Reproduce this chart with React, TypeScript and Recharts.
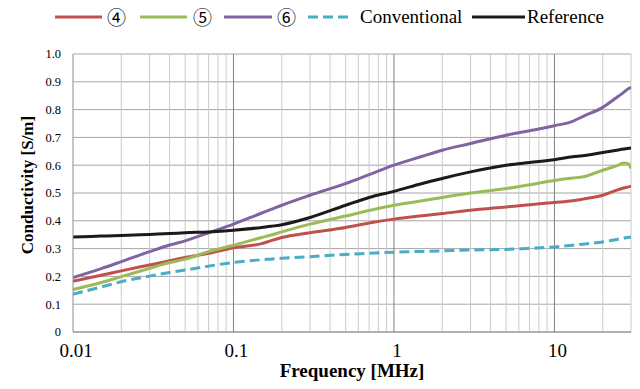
import React from 'react';
import { LineChart, Line, XAxis, YAxis, CartesianGrid, ReferenceLine } from 'recharts';

const freq = [0.01, 0.015, 0.02, 0.03, 0.04, 0.05, 0.07, 0.1, 0.15, 0.17, 0.2, 0.3, 0.5, 0.7, 1, 1.5, 2, 3, 5, 7, 10, 13, 15, 20, 25, 27, 29, 30];

const s4 = [0.183, 0.204, 0.220, 0.241, 0.256, 0.268, 0.283, 0.303, 0.318, 0.328, 0.340, 0.357, 0.376, 0.392, 0.406, 0.418, 0.426, 0.438, 0.450, 0.458, 0.466, 0.472, 0.478, 0.492, 0.512, 0.518, 0.522, 0.524];
const s5 = [0.153, 0.178, 0.199, 0.229, 0.250, 0.262, 0.289, 0.312, 0.340, 0.348, 0.360, 0.388, 0.417, 0.437, 0.456, 0.472, 0.484, 0.500, 0.516, 0.530, 0.545, 0.554, 0.558, 0.582, 0.600, 0.608, 0.605, 0.588];
const s6 = [0.196, 0.228, 0.253, 0.289, 0.313, 0.328, 0.357, 0.388, 0.428, 0.440, 0.456, 0.492, 0.534, 0.566, 0.600, 0.632, 0.654, 0.678, 0.708, 0.724, 0.742, 0.758, 0.775, 0.808, 0.848, 0.862, 0.876, 0.880];
const conventional = [0.136, 0.162, 0.181, 0.201, 0.214, 0.223, 0.237, 0.250, 0.260, 0.262, 0.265, 0.271, 0.279, 0.283, 0.287, 0.290, 0.292, 0.295, 0.297, 0.301, 0.306, 0.312, 0.316, 0.324, 0.334, 0.337, 0.341, 0.342];
const reference = [0.342, 0.345, 0.347, 0.351, 0.354, 0.357, 0.360, 0.366, 0.376, 0.380, 0.386, 0.412, 0.456, 0.484, 0.506, 0.534, 0.552, 0.576, 0.600, 0.610, 0.620, 0.630, 0.634, 0.646, 0.655, 0.658, 0.661, 0.662];

const xTicks = [0.01, 0.1, 1, 10];
const xTickLabels = ['0.01', '0.1', '1', '10'];
const minorGrid = [0.02, 0.03, 0.04, 0.05, 0.06, 0.07, 0.08, 0.09, 0.2, 0.3, 0.4, 0.5, 0.6, 0.7, 0.8, 0.9, 2, 3, 4, 5, 6, 7, 8, 9, 20, 30];
const majorGrid = [0.1, 1, 10];
const yTicks = [0, 0.1, 0.2, 0.3, 0.4, 0.5, 0.6, 0.7, 0.8, 0.9, 1.0];
const yTickLabels = ['0', '0.1', '0.2', '0.3', '0.4', '0.5', '0.6', '0.7', '0.8', '0.9', '1.0'];

const seriesNames = ['④', '⑤', '⑥', 'Conventional', 'Reference'];
const seriesKeys = ['s4', 's5', 's6', 'conv', 'ref'];
const seriesColors = ['#C0504D', '#9BBB59', '#8064A2', '#4BACC6', '#1a1a1a'];
const seriesDash = ['', '', '', '10 5', ''];

const data = freq.map((f, i) => ({
  f,
  s4: s4[i],
  s5: s5[i],
  s6: s6[i],
  conv: conventional[i],
  ref: reference[i],
}));

const FONT = '"Liberation Serif", "Times New Roman", serif';

// legend layout (positions of each legend entry)
const legendLeft = [55, 140, 224, 308, 472];
const legendLineLen = [47, 47, 48, 42, 53];
const legendGap = [5, 6, 5, 10, 2];

const LegendContent = () => (
  <div style={{ position: 'absolute', left: 0, top: 0, width: 640, height: 34 }}>
    {seriesNames.map((n, i) => (
      <div key={n} style={{ position: 'absolute', left: legendLeft[i], top: 6, height: 22, display: 'flex', alignItems: 'center', whiteSpace: 'nowrap' }}>
        <svg width={legendLineLen[i]} height={10} style={{ marginRight: legendGap[i], display: 'block' }}>
          <line x1={0} y1={5} x2={legendLineLen[i]} y2={5} stroke={seriesColors[i]} strokeWidth={3} strokeDasharray={seriesDash[i] || undefined} />
        </svg>
        <span style={{ fontFamily: i < 3 ? '"Noto Sans CJK JP", "DejaVu Sans", sans-serif' : FONT, fontSize: i < 3 ? 19 : 19, lineHeight: '22px', color: '#000' }}>{n}</span>
      </div>
    ))}
  </div>
);

export default function App() {
  return (
    <div style={{ position: 'absolute', left: 0, top: 0, width: 640, height: 389, background: '#fff' }}>
      <LineChart width={640} height={389} data={data} margin={{ top: 54, right: 9, bottom: 0, left: 0 }}>
        <CartesianGrid vertical={false} stroke="#a6a6a6" strokeWidth={1} />
        {minorGrid.map((g) => (
          <ReferenceLine key={'m' + g} x={g} stroke="#cbcbcb" strokeWidth={1} />
        ))}
        {majorGrid.map((g) => (
          <ReferenceLine key={'M' + g} x={g} stroke="#808080" strokeWidth={1} />
        ))}
        <XAxis
          dataKey="f"
          type="number"
          scale="log"
          domain={[0.01, 30]}
          allowDataOverflow
          ticks={xTicks}
          tickFormatter={(v: number) => xTickLabels[xTicks.indexOf(v)] ?? ''}
          tickLine={false}
          tickSize={0}
          tickMargin={12}
          height={57}
          axisLine={{ stroke: '#8c8c8c' }}
          tick={{ fontFamily: FONT, fontSize: 19, fill: '#000', dx: 3 }}
          label={{
            content: (props: any) => {
              const vb = props.viewBox;
              return (
                <text x={vb.x + vb.width / 2} y={vb.y + 45} textAnchor="middle" fontFamily={FONT} fontWeight="bold" fontSize={19} fill="#000">
                  Frequency [MHz]
                </text>
              );
            },
          }}
        />
        <YAxis
          type="number"
          domain={[0, 1]}
          ticks={yTicks}
          tickFormatter={(v: number) => yTickLabels[yTicks.indexOf(v)] ?? ''}
          tickLine={false}
          tickSize={0}
          tickMargin={12}
          width={73}
          axisLine={{ stroke: '#8c8c8c' }}
          tick={{ fontFamily: FONT, fontSize: 12.5, fill: '#000' }}
          label={{
            content: (props: any) => {
              const vb = props.viewBox;
              const cx = vb.x + 27.5;
              const cy = vb.y + vb.height / 2 - 8;
              return (
                <text x={cx} y={cy} transform={`rotate(-90, ${cx}, ${cy})`} textAnchor="middle" dominantBaseline="central" fontFamily={FONT} fontWeight="bold" fontSize={17} fill="#000">
                  Conductivity [S/m]
                </text>
              );
            },
          }}
        />
        {seriesKeys.map((k, i) => (
          <Line
            key={k}
            dataKey={k}
            name={seriesNames[i]}
            type="monotone"
            stroke={seriesColors[i]}
            strokeWidth={3}
            strokeDasharray={seriesDash[i] || undefined}
            dot={false}
            activeDot={false}
            isAnimationActive={false}
          />
        ))}
      </LineChart>
      <LegendContent />
    </div>
  );
}
